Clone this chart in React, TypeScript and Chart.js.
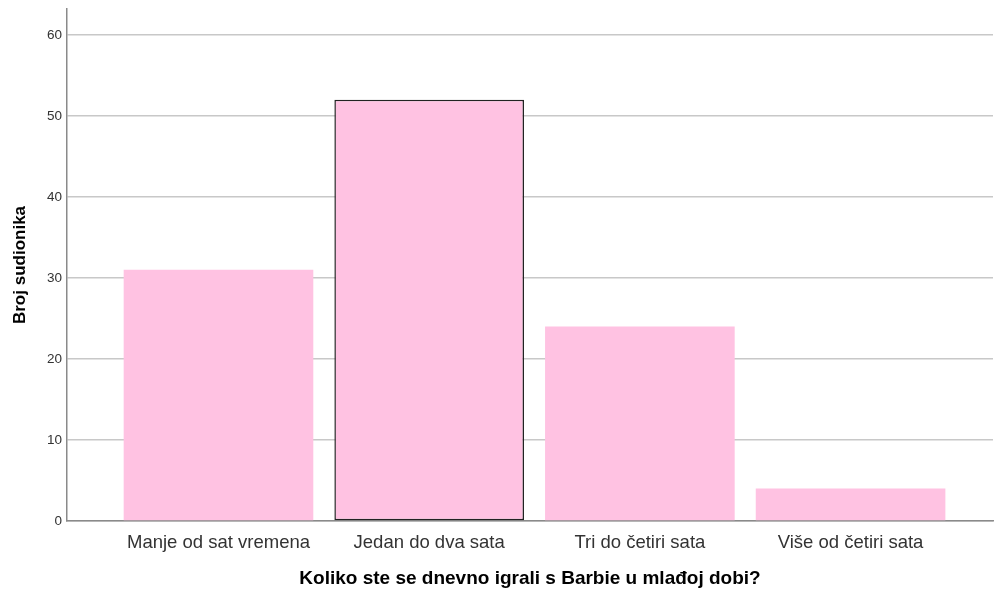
import React, { useEffect, useRef } from "react";
import { Chart, registerables } from "chart.js";

Chart.register(...registerables);

const categories = ["Manje od sat vremena", "Jedan do dva sata", "Tri do četiri sata", "Više od četiri sata"];
const counts = [31, 52, 24, 4];
const yTicks = [0, 10, 20, 30, 40, 50, 60];
const xTitle = "Koliko ste se dnevno igrali s Barbie u mlađoj dobi?";
const yTitle = "Broj sudionika";

const FONT = "'Liberation Sans', Arial, sans-serif";

export default function App() {
  const ref = useRef<HTMLCanvasElement | null>(null);
  useEffect(() => {
    document.body.style.margin = "0";
    const canvas = ref.current!;
    const chart = new Chart(canvas, {
      type: "bar",
      data: {
        datasets: [
          {
            data: counts.map((v, i) => ({ x: i, y: v })),
            backgroundColor: "#FFC2E2",
            borderColor: counts.map((_, i) => (i === 1 ? "#222222" : "rgba(0,0,0,0)")),
            borderWidth: counts.map((_, i) => (i === 1 ? 1.5 : 0)),
            borderSkipped: false,
            barPercentage: 0.9,
            categoryPercentage: 1,
          },
        ],
      },
      options: {
        animation: false,
        responsive: false,
        maintainAspectRatio: false,
        layout: { padding: { top: 9, right: 1, left: 0, bottom: 0 } },
        plugins: { legend: { display: false }, tooltip: { enabled: false } },
        scales: {
          x: {
            type: "linear",
            offset: false,
            min: -0.719,
            max: 3.676,
            afterBuildTicks: (s: any) => {
              s.ticks = categories.map((_, i) => ({ value: i }));
            },
            afterFit: (s: any) => {
              s.height = 69;
            },
            grid: { display: false, drawTicks: false },
            border: { display: true, color: "#8a8a8a", width: 1.5 },
            ticks: {
              autoSkip: false,
              maxRotation: 0,
              padding: 11,
              color: "#333333",
              font: { family: FONT, size: 18.5 },
              callback: (v: any) => categories[v as number] ?? "",
            },
            title: {
              display: true,
              text: xTitle,
              color: "#000000",
              font: { family: FONT, size: 19, weight: "bold" },
              padding: { top: 8, bottom: 0 },
            },
          },
          y: {
            type: "linear",
            min: 0,
            max: 63.2,
            afterBuildTicks: (s: any) => {
              s.ticks = yTicks.map((v) => ({ value: v }));
            },
            afterFit: (s: any) => {
              s.width = 67;
              s.paddingTop = 0;
              s.paddingBottom = 0;
            },
            grid: { color: "#c8c8c8", lineWidth: 1.5, drawTicks: false },
            border: { display: true, color: "#8a8a8a", width: 1.5 },
            ticks: {
              padding: 5,
              color: "#333333",
              font: { family: FONT, size: 13.5 },
            },
            title: {
              display: true,
              text: yTitle,
              color: "#000000",
              font: { family: FONT, size: 17, weight: "bold" },
              padding: { top: 10, bottom: 0 },
            },
          },
        },
      },
    } as any);
    return () => chart.destroy();
  }, []);
  return (
    <div style={{ position: "absolute", left: 0, top: 0, width: 994, height: 590, background: "#fff" }}>
      <canvas ref={ref} width={994} height={590} style={{ width: 994, height: 590 }} />
    </div>
  );
}
